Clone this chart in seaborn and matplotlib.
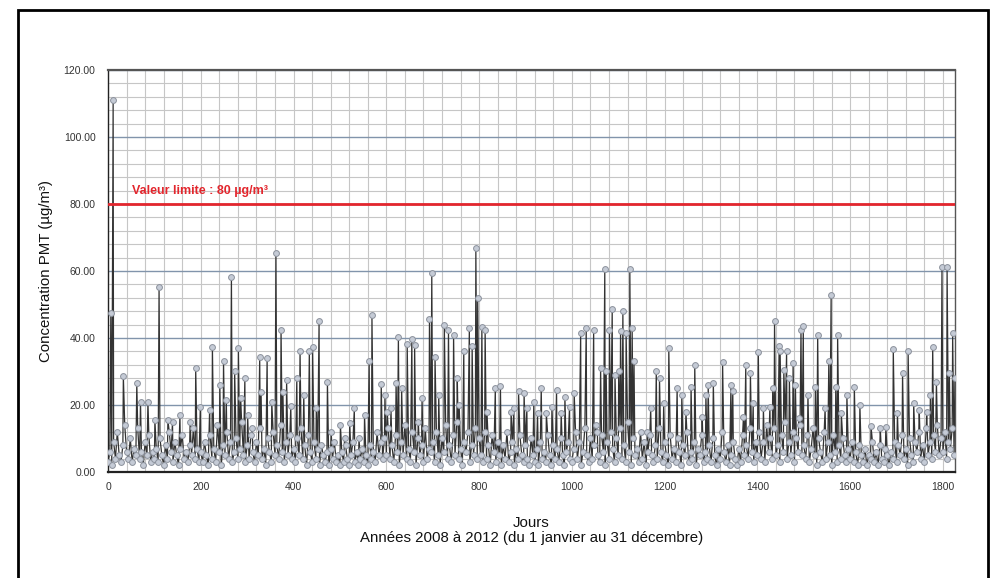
import numpy as np
import pandas as pd
import matplotlib
matplotlib.use("Agg")
import matplotlib.pyplot as plt
import seaborn as sns
from matplotlib.ticker import MultipleLocator, FormatStrFormatter
from matplotlib.patches import Rectangle

# niveau de fond, un point tous les 4 jours (jours 0 a 1824)
fond = [
    3, 6, 2, 9, 4, 12, 5, 3, 8, 14, 6, 4, 10, 3, 7, 5, 13, 4, 6, 2, 9, 5, 11, 3, 6,
    4, 7, 3, 10, 5, 2, 8, 4, 12, 6, 3, 9, 5, 2, 7, 11, 4, 6, 3, 8, 5, 13, 4, 7, 3,
    6, 3, 9, 5, 2, 11, 4, 7, 3, 14, 6, 2, 8, 5, 12, 4, 9, 3, 6, 10, 4, 7, 15, 5, 3,
    8, 4, 11, 6, 3, 9, 5, 13, 4, 7, 2, 10, 6, 3, 12, 5, 8, 4, 14, 6, 3, 9, 5, 11, 4,
    7, 3, 10, 5, 13, 4, 8, 2, 11, 6, 3, 9, 4, 7, 2, 8, 5, 3, 6, 2, 7, 4, 9, 3, 5,
    2, 6, 3, 8, 4, 2, 5, 9, 3, 6, 2, 4, 7, 3, 5, 2, 8, 4, 6, 3, 12, 5, 9, 4, 10,
    5, 13, 4, 8, 3, 11, 6, 2, 9, 5, 14, 4, 7, 3, 12, 6, 2, 10, 5, 8, 3, 13, 4, 7, 6,
    9, 3, 12, 5, 2, 10, 6, 14, 4, 8, 3, 11, 5, 15, 4, 7, 2, 9, 6, 12, 3, 8, 5, 13, 4,
    10, 5, 3, 12, 4, 8, 2, 11, 6, 3, 9, 5, 2, 8, 4, 12, 3, 6, 9, 2, 7, 4, 11, 5, 3,
    8, 4, 2, 10, 5, 3, 7, 2, 9, 4, 6, 3, 11, 5, 2, 8, 4, 7, 3, 10, 5, 2, 6, 9, 4,
    3, 7, 12, 4, 9, 2, 6, 13, 5, 3, 10, 4, 8, 14, 5, 3, 11, 6, 2, 9, 4, 12, 7, 3, 10,
    5, 13, 4, 8, 3, 15, 6, 2, 10, 5, 7, 3, 12, 4, 9, 2, 6, 11, 5, 3, 8, 4, 13, 6, 3,
    9, 5, 2, 11, 4, 7, 3, 10, 6, 2, 8, 5, 12, 3, 6, 4, 9, 2, 7, 5, 11, 3, 6, 4, 8,
    3, 10, 5, 2, 7, 4, 12, 6, 3, 8, 2, 5, 9, 4, 2, 7, 3, 11, 5, 8, 4, 13, 6, 3, 9,
    5, 12, 4, 9, 3, 14, 6, 10, 4, 13, 5, 8, 3, 11, 6, 15, 4, 9, 5, 12, 3, 10, 6, 14, 5,
    8, 4, 11, 3, 7, 13, 5, 2, 10, 6, 3, 12, 4, 9, 5, 2, 11, 6, 3, 8, 4, 10, 5, 3, 7,
    4, 9, 3, 6, 2, 8, 5, 3, 7, 2, 5, 4, 9, 3, 6, 2, 8, 4, 3, 7, 5, 2, 6, 4, 9,
    3, 8, 5, 11, 4, 7, 2, 10, 5, 3, 9, 6, 12, 4, 8, 3, 13, 5, 9, 4, 11, 6, 14, 5, 10,
    6, 12, 4, 9, 7, 13, 5,
]
jours_fond = np.arange(0, 4 * len(fond), 4)

# pics
jours_pics = [
    6, 11, 33, 62, 70, 86, 101, 110, 129, 139, 155, 177, 189, 199, 219, 225, 241, 249,
    255, 266, 273, 281, 286, 295, 301, 311, 327, 330, 343, 353, 362, 373, 377, 385, 394,
    407, 414, 422, 434, 441, 449, 455, 473, 481, 501, 510, 521, 531, 541, 553, 563, 569,
    589, 597, 602, 610, 621, 626, 633, 645, 655, 661, 669, 677, 693, 698, 705, 713, 725,
    734, 745, 753, 757, 767, 779, 785, 793, 797, 806, 813, 817, 835, 846, 869, 875, 885,
    897, 903, 918, 926, 934, 945, 957, 967, 977, 985, 995, 1005, 1019, 1031, 1047, 1055,
    1062, 1071, 1074, 1081, 1087, 1093, 1101, 1105, 1110, 1117, 1125, 1130, 1134, 1163,
    1170, 1182, 1189, 1198, 1209, 1227, 1237, 1246, 1257, 1265, 1281, 1289, 1294, 1305,
    1325, 1343, 1347, 1370, 1375, 1385, 1391, 1402, 1413, 1427, 1433, 1437, 1447, 1449,
    1457, 1463, 1469, 1477, 1482, 1489, 1494, 1499, 1509, 1525, 1530, 1546, 1554, 1559,
    1569, 1573, 1581, 1593, 1609, 1621, 1645, 1665, 1677, 1693, 1702, 1713, 1725, 1737,
    1749, 1765, 1773, 1778, 1786, 1798, 1809, 1814, 1821, 1826,
]
valeurs_pics = [
    47.5, 111.0, 28.7, 26.5, 21.0, 21.0, 15.5, 55.3, 15.5, 15.0, 17.0, 15.0, 31.0, 19.5, 18.5, 37.4, 26.0, 33.2,
    21.4, 58.3, 30.0, 36.9, 22.0, 28.0, 17.0, 13.0, 34.2, 24.0, 34.0, 20.8, 65.5, 42.4, 24.0, 27.5, 19.6,
    28.0, 36.2, 23.0, 36.0, 37.2, 19.0, 45.0, 27.0, 12.0, 14.0, 10.0, 14.5, 19.0, 10.0, 17.0, 33.0, 46.9,
    26.3, 23.0, 18.0, 19.0, 26.5, 40.4, 25.0, 38.2, 39.7, 37.8, 15.0, 22.0, 45.6, 59.3, 34.2, 23.0, 44.0,
    42.5, 41.0, 28.0, 20.0, 36.2, 42.9, 37.5, 66.8, 52.0, 43.4, 42.5, 18.0, 25.0, 25.8, 17.9, 19.0, 24.3,
    23.5, 19.0, 21.0, 17.5, 25.0, 17.5, 19.5, 24.5, 17.5, 22.5, 19.5, 23.5, 41.4, 43.0, 42.3, 12.0,
    31.0, 60.6, 30.0, 42.5, 48.7, 29.0, 30.0, 42.0, 48.0, 41.4, 60.5, 43.0, 33.0, 12.0,
    19.0, 30.0, 28.0, 20.5, 37.0, 25.0, 23.0, 18.0, 25.5, 32.0, 16.5, 23.0, 26.0, 26.7,
    32.7, 26.0, 24.3, 16.5, 32.0, 29.5, 20.5, 35.7, 19.0, 19.5, 25.0, 45.0, 37.7, 36.0,
    30.3, 36.0, 28.0, 32.5, 26.0, 16.0, 42.4, 43.5, 23.0, 25.5, 41.0, 19.0, 33.0, 52.8,
    25.5, 40.9, 17.5, 23.0, 25.5, 20.0, 13.7, 13.0, 13.5, 36.7, 17.5, 29.5, 36.0, 20.5,
    18.5, 18.0, 23.0, 37.4, 27.0, 61.1, 61.1, 29.5, 41.4, 28.0,
]

valeur_limite = 80

df = pd.DataFrame({
    "jour": np.concatenate([jours_fond, jours_pics]),
    "pmt": np.concatenate([fond, valeurs_pics]).astype(float),
}).sort_values("jour")

sns.set_style("white")
plt.rcParams['font.family'] = ['Liberation Sans', 'DejaVu Sans']

fig = plt.figure(figsize=(9.93, 5.78), dpi=100)
ax = fig.add_axes([0.1088, 0.1834, 0.8529, 0.6955])

sns.lineplot(data=df, x="jour", y="pmt", sort=False, estimator=None, ax=ax,
             color="#333333", linewidth=0.9, marker="o", markersize=4.2,
             markerfacecolor="#c5cbd6", markeredgecolor="#8b919c", markeredgewidth=0.7,
             zorder=4)

ax.axhline(valeur_limite, color="#e3262d", lw=2, zorder=5)
ax.text(52, 82.2, "Valeur limite : 80 µg/m³", color="#e3262d", fontsize=9,
        fontweight="bold", va="bottom", ha="left", zorder=6)

ax.set_xlim(0, 1826)
ax.set_ylim(0, 120)
ax.xaxis.set_major_locator(MultipleLocator(200))
ax.xaxis.set_minor_locator(MultipleLocator(40))
ax.yaxis.set_major_locator(MultipleLocator(20))
ax.yaxis.set_minor_locator(MultipleLocator(4))
ax.yaxis.set_major_formatter(FormatStrFormatter("%.2f"))

ax.set_axisbelow(True)
ax.grid(which="minor", color="#c6c6c6", lw=0.8)
ax.grid(which="major", axis="x", color="#c6c6c6", lw=0.8)
ax.grid(which="major", axis="y", color="#8194ab", lw=1.0)

ax.tick_params(which="both", direction="out", color="#333333", labelsize=7.5,
               labelcolor="#333333")
ax.tick_params(which="major", length=4, width=0.8)
ax.tick_params(which="minor", length=3, width=0.7)
ax.tick_params(axis="y", which="major", pad=5)
for s in ax.spines.values():
    s.set_color("#555555")
    s.set_linewidth(1.0)
ax.spines["top"].set_linewidth(1.6)
ax.spines["bottom"].set_color("#222222")
ax.spines["bottom"].set_linewidth(1.6)
ax.spines["left"].set_color("#222222")

ax.set_xlabel("Jours\nAnnées 2008 à 2012 (du 1 janvier au 31 décembre)",
              fontsize=10.8, color="#111111", labelpad=17, linespacing=1.1)
ax.set_ylabel("Concentration PMT (µg/m³)", fontsize=10.8, color="#111111", labelpad=8)

fig.add_artist(Rectangle((18 / 993, -0.05), (988 - 18) / 993, 1 - 10 / 578 + 0.05,
                         transform=fig.transFigure, fill=False, lw=2, ec="black"))

fig.savefig("out.png", dpi=100)
